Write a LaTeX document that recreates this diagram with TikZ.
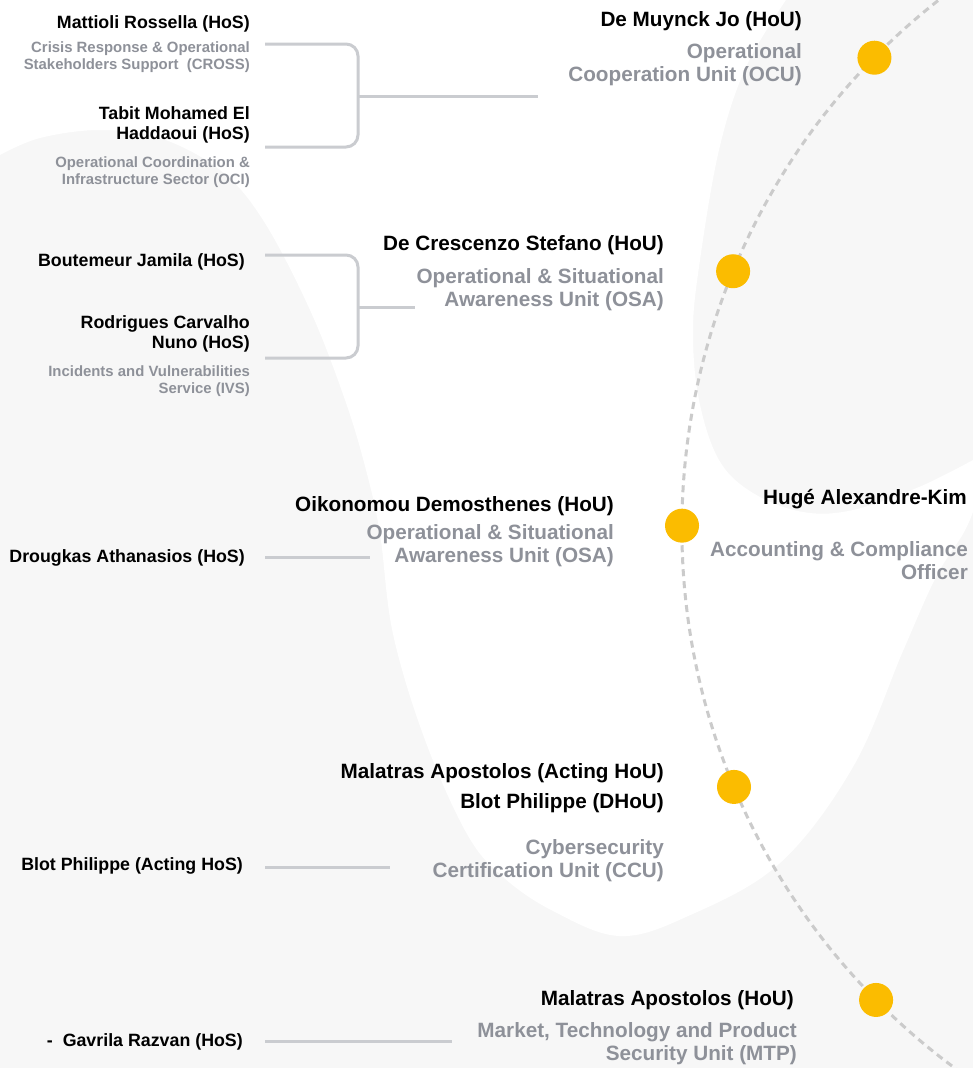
\documentclass[tikz,border=0pt]{standalone}
\usepackage{fontspec}
\setmainfont{Liberation Sans}
\definecolor{bgray}{HTML}{F7F7F7}
\definecolor{subgray}{HTML}{8E9199}
\definecolor{linegray}{HTML}{CACCD0}
\definecolor{dashgray}{HTML}{CBCBCB}
\definecolor{dotyellow}{HTML}{FBBC00}
\tikzset{
  person/.style={inner sep=0pt, align=right, text=black,
    font=\fontsize{17.8}{20}\selectfont\bfseries},
  sector/.style={inner sep=0pt, align=right, text=subgray,
    font=\fontsize{14.9}{16.5}\selectfont\bfseries},
  head/.style={inner sep=0pt, align=right, text=black,
    font=\fontsize{20.7}{22.5}\selectfont\bfseries},
  unitname/.style={inner sep=0pt, align=right, text=subgray,
    font=\fontsize{20.7}{22.5}\selectfont\bfseries},
  conn/.style={draw=linegray, line width=3pt},
  bracket/.style={conn, rounded corners=12pt},
  arcline/.style={draw=dashgray, line width=3pt, dash pattern=on 7pt off 5pt},
  dot/.style={circle, fill=dotyellow, minimum size=34pt, inner sep=0pt},
}
\begin{document}
\begin{tikzpicture}[x=1pt, y=1pt]
\useasboundingbox (0,0) rectangle (973,-1068);

% background: soft grey field with a white band through the middle
\fill[bgray] (0,0) rectangle (973,-1068);
\fill[white] (0,0)
  -- plot[smooth, tension=0.6] coordinates {(786,0) (746,-67) (719,-150)
     (699,-267) (693,-333) (699,-400) (719,-460) (753,-493) (803,-512)
     (853,-510) (919,-487) (973,-460)}
  -- (973,-512)
  -- plot[smooth, tension=0.6] coordinates {(973,-512) (963,-534)
     (936,-577) (903,-651) (853,-767) (779,-864) (686,-917) (619,-936)
     (553,-911) (503,-877) (467,-834) (425,-740) (393,-634) (380,-534)
     (366,-470) (345,-400) (310,-310) (263,-220) (220,-170) (160,-138)
     (100,-130) (40,-138) (0,-155)}
  -- cycle;

% dashed timeline arc
\coordinate (c) at (1353,-528);
\begin{scope}
  \clip (0,0) rectangle (973,-1068);
  \draw[arcline] ([shift={(120:671pt)}]c) arc[start angle=120, end angle=240, radius=671pt];
\end{scope}

% unit markers on the arc
\node[dot] (ocu) at ([shift={(135.5:671pt)}]c) {};
\node[dot] (osa1) at ([shift={(157.5:671pt)}]c) {};
\node[dot] (osa2) at ([shift={(179.8:671pt)}]c) {};
\node[dot] (ccu) at ([shift={(202.7:671pt)}]c) {};
\node[dot] (mtp) at ([shift={(224.7:671pt)}]c) {};

% unit headings (multi-line texts are placed by their last baseline)
\node[head, anchor=base east] (hocu) at (802,-26) {De Muynck Jo (HoU)};
\node[unitname, anchor=base east] (nocu) at (802,-81) {Operational\\Cooperation Unit (OCU)};

\node[head, anchor=base east] (hosa1) at (664,-250) {De Crescenzo Stefano (HoU)};
\node[unitname, anchor=base east] (nosa1) at (664,-306) {Operational \& Situational\\Awareness Unit (OSA)};

\node[head, anchor=base east] (hosa2) at (614,-511) {Oikonomou Demosthenes (HoU)};
\node[unitname, anchor=base east] (nosa2) at (614,-562) {Operational \& Situational\\Awareness Unit (OSA)};

\node[head, anchor=base east] (hacc) at (967,-504) {Hugé Alexandre-Kim};
\node[unitname, anchor=base east] (nacc) at (968,-579) {Accounting \& Compliance\\Officer};

\node[head, anchor=base east] (hccu) at (664,-778) {Malatras Apostolos (Acting HoU)};
\node[head, anchor=base east] (dccu) at (664,-808) {Blot Philippe (DHoU)};
\node[unitname, anchor=base east] (nccu) at (664,-877) {Cybersecurity\\Certification Unit (CCU)};

\node[head, anchor=base east] (hmtp) at (794,-1005) {Malatras Apostolos (HoU)};
\node[unitname, anchor=base east] (nmtp) at (797,-1060) {Market, Technology and Product\\Security Unit (MTP)};

% sector heads
\node[person, anchor=base east] (mattioli) at (250,-28) {Mattioli Rossella (HoS)};
\node[sector, anchor=base east] (cross) at (250,-69) {Crisis Response \& Operational\\Stakeholders Support\ \ (CROSS)};
\node[person, anchor=base east] (tabit) at (250,-139) {Tabit Mohamed El\\Haddaoui (HoS)};
\node[sector, anchor=base east] (oci) at (250,-184) {Operational Coordination \&\\Infrastructure Sector (OCI)};

\node[person, anchor=base east] (boutemeur) at (245,-266) {Boutemeur Jamila (HoS)};
\node[person, anchor=base east] (rodrigues) at (250,-348) {Rodrigues Carvalho\\Nuno (HoS)};
\node[sector, anchor=base east] (ivs) at (250,-393) {Incidents and Vulnerabilities\\Service (IVS)};

\node[person, anchor=base east] (drougkas) at (245,-562) {Drougkas Athanasios (HoS)};
\node[person, anchor=base east] (blot) at (243,-870) {Blot Philippe (Acting HoS)};
\node[person, anchor=base east] (gavrila) at (243,-1046) {-\ \ Gavrila Razvan (HoS)};

% connector end points
\coordinate (b1top) at (265,-44);
\coordinate (b1bot) at (265,-147);
\coordinate (b1join) at (358,-96);
\coordinate (b1end) at (538,-96);
\coordinate (b2top) at (265,-255);
\coordinate (b2bot) at (265,-358);
\coordinate (b2join) at (358,-307);
\coordinate (b2end) at (415,-307);
\coordinate (l3a) at (265,-557);
\coordinate (l3b) at (370,-557);
\coordinate (l4a) at (265,-867);
\coordinate (l4b) at (390,-867);
\coordinate (l5a) at (265,-1041);
\coordinate (l5b) at (452,-1041);

% brackets and links
\draw[bracket] (b1top) -| (b1join) |- (b1bot);
\draw[conn] (b1join) -- (b1end);
\draw[bracket] (b2top) -| (b2join) |- (b2bot);
\draw[conn] (b2join) -- (b2end);
\draw[conn] (l3a) -- (l3b);
\draw[conn] (l4a) -- (l4b);
\draw[conn] (l5a) -- (l5b);
\end{tikzpicture}
\end{document}
